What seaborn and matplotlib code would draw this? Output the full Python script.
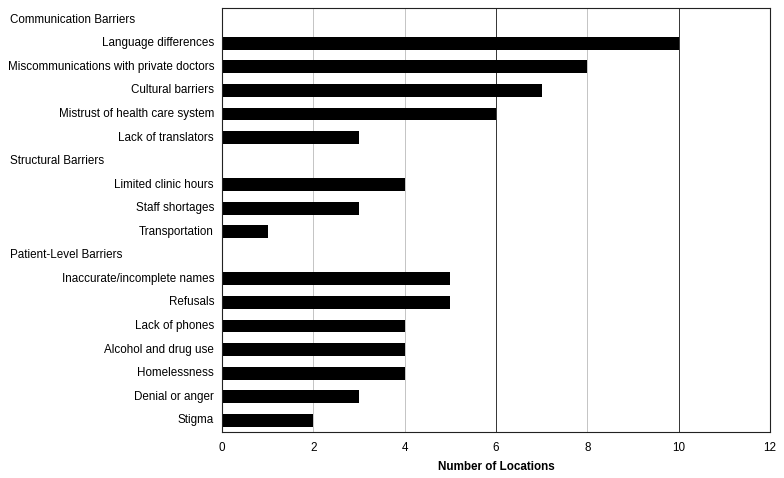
import matplotlib
matplotlib.use("Agg")
import matplotlib.pyplot as plt
import matplotlib.transforms as mtransforms
import seaborn as sns
import pandas as pd

groups = ["Communication Barriers", "Structural Barriers", "Patient-Level Barriers"]
comm_items = ["Language differences", "Miscommunications with private doctors",
              "Cultural barriers", "Mistrust of health care system", "Lack of translators"]
comm_values = [10, 8, 7, 6, 3]
struct_items = ["Limited clinic hours", "Staff shortages", "Transportation"]
struct_values = [4, 3, 1]
patient_items = ["Inaccurate/incomplete names", "Refusals", "Lack of phones",
                 "Alcohol and drug use", "Homelessness", "Denial or anger", "Stigma"]
patient_values = [5, 5, 4, 4, 4, 3, 2]
x_ticks = [0, 2, 4, 6, 8, 10, 12]
x_label = "Number of Locations"

order = ([groups[0]] + comm_items + [groups[1]] + struct_items + [groups[2]] + patient_items)
df = pd.DataFrame({
    "item": comm_items + struct_items + patient_items,
    "value": comm_values + struct_values + patient_values,
})

sns.set_style("white")
plt.rcParams["font.family"] = ["Liberation Sans", "DejaVu Sans"]
plt.rcParams["text.color"] = "black"
plt.rcParams["axes.labelcolor"] = "black"
plt.rcParams["xtick.color"] = "black"
plt.rcParams["ytick.color"] = "black"

FS = 8.4
fig = plt.figure(figsize=(7.84, 4.78), dpi=100)
ax = fig.add_axes([222 / 784, 1 - 432 / 478, 548 / 784, 424 / 478])

sns.barplot(data=df, x="value", y="item", order=order, orient="h",
            color="black", width=0.55, saturation=1, edgecolor="none", ax=ax)

ax.set_xlim(0, 12)
ax.set_ylim(len(order) - 0.5, -0.5)
ax.set_xticks(x_ticks)
ax.set_xticklabels([str(t) for t in x_ticks], fontsize=FS)
ax.set_xlabel(x_label, fontsize=FS, fontweight="bold", labelpad=5)
ax.set_ylabel("")
ax.set_yticks(range(len(order)))
ax.set_yticklabels([])
ax.tick_params(axis="y", length=0)
ax.set_yticks([i + 0.5 for i in range(-1, len(order))], minor=True)
ax.tick_params(axis="y", which="minor", length=3, width=0.6, color="#444", direction="out")
ax.tick_params(axis="x", length=3, width=0.6, color="#444", direction="out", pad=4)

for t in x_ticks[1:-1]:
    col = "#333333" if t in (6, 10) else "#c4c4c4"
    ax.axvline(t, color=col, linewidth=0.7, zorder=0)

for s in ax.spines.values():
    s.set_visible(True)
    s.set_color("#222222")
    s.set_linewidth(0.8)

trans = mtransforms.blended_transform_factory(fig.transFigure, ax.transData)
for i, lab in enumerate(order):
    if lab in groups:
        ax.text(10 / 784, i, lab, transform=trans, ha="left", va="center", fontsize=FS)
    else:
        ax.text(214 / 784, i, lab, transform=trans, ha="right", va="center", fontsize=FS)

fig.savefig("out.png", dpi=100)
